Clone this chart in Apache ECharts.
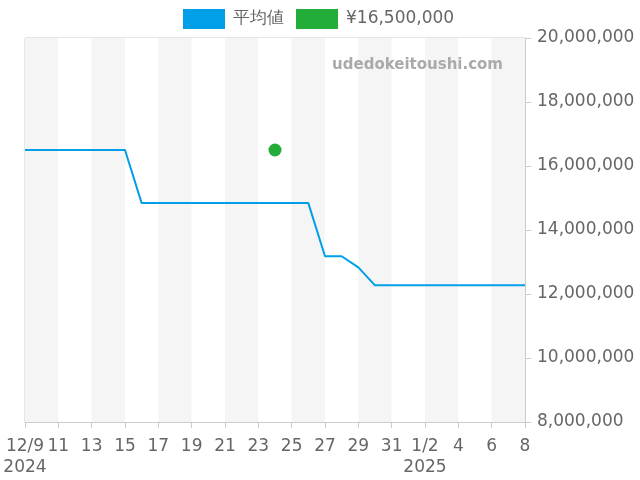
<!DOCTYPE html>
<html>
<head>
    <meta charset="utf-8">
    <title>ECharts</title>
    <script src="https://cdn.jsdelivr.net/npm/echarts@6/dist/echarts.min.js"></script>
</head>
<body style="margin:0">
    <div id="main" style="width: 640px;height:480px;"></div>
    <script type="text/javascript">
        // 日付 (12/9 〜 1/8)、2日おきにラベル表示
        const days = ['12/9\n2024', '12/10', '11', '12/12', '13', '12/14', '15', '12/16', '17', '12/18',
            '19', '12/20', '21', '12/22', '23', '12/24', '25', '12/26', '27', '12/28',
            '29', '12/30', '31', '1/1', '1/2\n2025', '1/3', '4', '1/5', '6', '1/7', '8']
        // 平均値
        const avgValues = [
            16500000, 16500000, 16500000, 16500000, 16500000, 16500000, 16500000,
            14840000, 14840000, 14840000, 14840000, 14840000, 14840000, 14840000, 14840000, 14840000, 14840000, 14840000,
            13180000, 13180000, 12830000,
            12270000, 12270000, 12270000, 12270000, 12270000, 12270000, 12270000, 12270000, 12270000, 12270000
        ]
        // ¥16,500,000 の出品 (12/24)
        const priceDays = ['12/24']
        const priceValues = [16500000]
        const yTicks = [8000000, 20000000, 2000000]

        var myChart = echarts.init(document.getElementById('main'));
        var font = 'DejaVu Sans'
        var option = {
            animation: false,
            color: ['#009fe8', '#22ac38'],
            textStyle: { fontFamily: font },
            graphic: [{
                type: 'text',
                z: 100,
                x: 503,
                y: 65,
                style: {
                    text: 'udedokeitoushi.com',
                    fill: '#aaa',
                    fontFamily: font,
                    fontWeight: 'bold',
                    fontSize: 15,
                    align: 'right',
                    verticalAlign: 'middle'
                }
            }],
            legend: {
                top: 4,
                left: 178,
                itemWidth: 42,
                itemHeight: 20,
                itemGap: 12,
                textStyle: { fontSize: 17, color: '#666', fontFamily: font, padding: [0, 0, 0, 3] },
                data: [
                    { name: '平均値', icon: 'rect' },
                    { name: '¥16,500,000', icon: 'rect' }
                ]
            },
            grid: {
                left: 25,
                right: 115,
                top: 38,
                bottom: 58,
                show: true,
                borderColor: '#ccc'
            },
            xAxis: {
                type: 'category',
                data: days,
                boundaryGap: false,
                axisLine: { lineStyle: { color: '#ccc' } },
                axisTick: { interval: 1, length: 6, lineStyle: { color: '#ccc' } },
                axisLabel: {
                    interval: 1,
                    fontSize: 17,
                    color: '#666',
                    lineHeight: 21,
                    margin: 14
                },
                splitLine: { show: false },
                splitArea: { show: true, interval: 1, areaStyle: { color: ['#f5f5f5', '#fff'] } }
            },
            yAxis: {
                type: 'value',
                position: 'right',
                min: yTicks[0],
                max: yTicks[1],
                interval: yTicks[2],
                axisLine: { show: true, lineStyle: { color: '#ccc' } },
                axisTick: { show: true, length: 6, lineStyle: { color: '#ccc' } },
                axisLabel: {
                    fontSize: 17,
                    color: '#666',
                    margin: 12,
                    formatter: v => v.toLocaleString('en-US')
                },
                splitLine: { lineStyle: { color: '#e6e6e6' } }
            },
            series: [{
                name: '平均値',
                type: 'line',
                data: avgValues,
                symbol: 'none',
                lineStyle: { width: 2 }
            }, {
                name: '¥16,500,000',
                type: 'scatter',
                data: priceDays.map((d, i) => [d, priceValues[i]]),
                symbol: 'circle',
                symbolSize: 13,
                itemStyle: { opacity: 1 }
            }]
        };
        myChart.setOption(option);
    </script>
</body>
</html>
